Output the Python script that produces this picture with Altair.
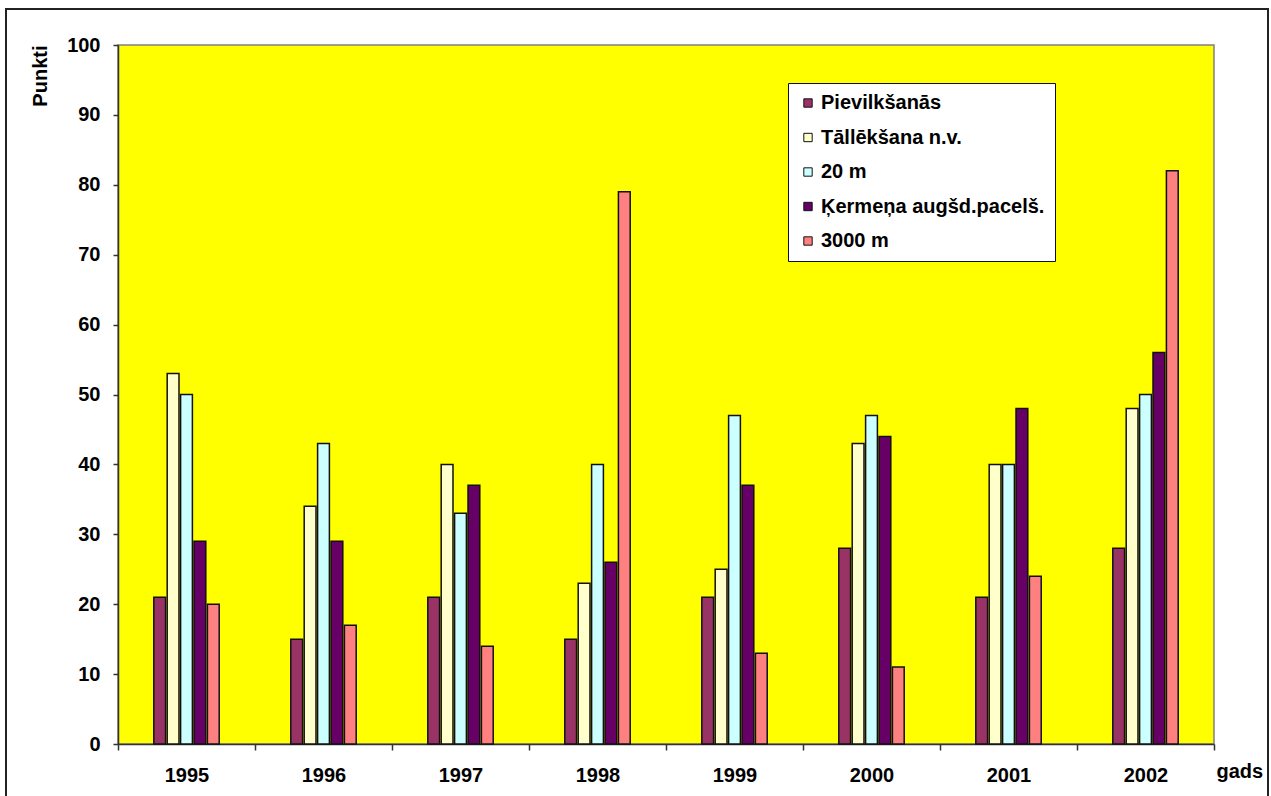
import altair as alt
import pandas as pd

# Test results per year (points)
years = ["1995", "1996", "1997", "1998", "1999", "2000", "2001", "2002"]
series = ["Pievilkšanās", "Tāllēkšana n.v.", "20 m", "Ķermeņa augšd.pacelš.", "3000 m"]
colors = ["#993366", "#FFFFCC", "#CCFFFF", "#660066", "#FF8080"]

pievilksanas = [21, 15, 21, 15, 21, 28, 21, 28]
tallekšana = [53, 34, 40, 23, 25, 43, 40, 48]
m20 = [50, 43, 33, 40, 47, 47, 40, 50]
kermena = [29, 29, 37, 26, 37, 44, 48, 56]
m3000 = [20, 17, 14, 79, 13, 11, 24, 82]

values = [pievilksanas, tallekšana, m20, kermena, m3000]
rows = []
for name, vals in zip(series, values):
    for yr, v in zip(years, vals):
        rows.append({"gads": yr, "tests": name, "punkti": v})
df = pd.DataFrame(rows)

# empty slots either side keep each year's group in the middle half of its band
offset_domain = ["_l2", "_l1"] + series + ["_r1", "_r2"]

FONT = "Liberation Sans, Arial, sans-serif"

bars = alt.Chart(df).mark_bar(stroke="#111111", strokeWidth=1.5).encode(
    x=alt.X(
        "gads:N",
        sort=years,
        scale=alt.Scale(paddingInner=0, paddingOuter=0),
        axis=alt.Axis(
            title="gads",
            titleX=1098,
            titleY=33,
            titleAlign="left",
            titleBaseline="alphabetic",
            labelAngle=0,
            tickBand="extent",
            tickSize=6,
            labelPadding=15,
        ),
    ),
    xOffset=alt.XOffset(
        "tests:N",
        scale=alt.Scale(domain=offset_domain, paddingInner=0.12, paddingOuter=0.67),
    ),
    y=alt.Y(
        "punkti:Q",
        scale=alt.Scale(domain=[0, 100]),
        axis=alt.Axis(
            title="Punkti",
            values=list(range(0, 101, 10)),
            tickSize=5,
            labelPadding=13,
            titleX=-78,
            titleY=0,
            titleAngle=270,
            titleAlign="right",
            titleBaseline="middle",
            grid=False,
        ),
    ),
    color=alt.Color(
        "tests:N",
        sort=series,
        scale=alt.Scale(domain=series, range=colors),
        legend=alt.Legend(
            title=None,
            orient="none",
            legendX=670,
            legendY=38,
            fillColor="white",
            strokeColor="#111111",
            padding=10,
            symbolType="square",
            symbolSize=70,
            symbolStrokeColor="#111111",
            symbolStrokeWidth=1,
            labelFontSize=20,
            labelFont=FONT,
            labelFontWeight="bold",
            labelColor="black",
            rowPadding=14.5,
            labelOffset=3,
            labelLimit=400,
        ),
    ),
)

# Outer frame around the whole figure
frame = alt.Chart(pd.DataFrame({"k": [0]})).mark_rect(
    fillOpacity=0, stroke="#222222", strokeWidth=2
).encode(
    x=alt.value(-112),
    x2=alt.value(1150),
    y=alt.value(-36),
    y2=alt.value(900),
)

chart = alt.layer(frame, bars).properties(
    width=1096,
    height=699,
    autosize=alt.AutoSizeParams(type="none"),
    padding={"left": 118, "top": 45, "right": 57, "bottom": 52},
    background="white",
).configure_view(
    fill="#FFFF00", stroke="#808080", strokeWidth=1.5
).configure_axis(
    labelFont=FONT,
    labelFontSize=20,
    labelFontWeight="bold",
    labelColor="black",
    titleFont=FONT,
    titleFontSize=20,
    titleFontWeight="bold",
    titleColor="black",
    domainColor="#333333",
    domainWidth=1.5,
    tickColor="#333333",
    tickWidth=1.5,
)

chart.save("out.html", embed_options={"renderer": "svg", "actions": False})
